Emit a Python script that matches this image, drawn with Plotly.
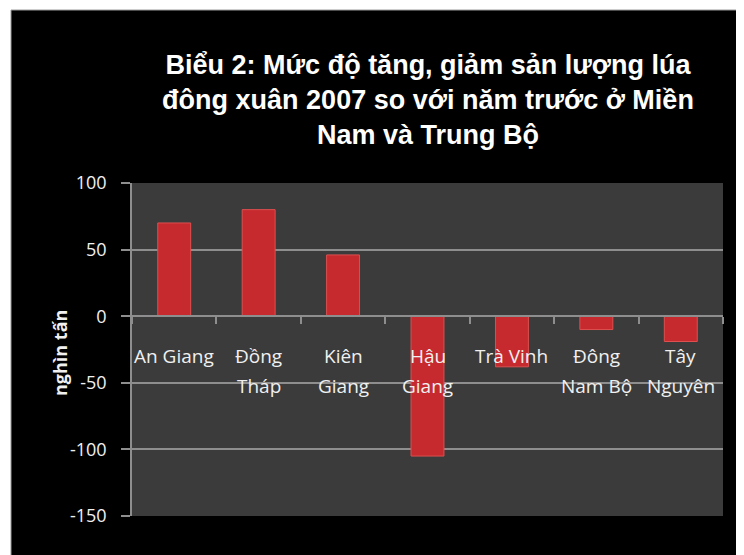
import plotly.graph_objects as go

# ---- data ----
categories = ["An Giang", "Đồng Tháp", "Kiên Giang", "Hậu Giang", "Trà Vinh", "Đông Nam Bộ", "Tây Nguyên"]
label_lines = [["An Giang"], ["Đồng", "Tháp"], ["Kiên", "Giang"], ["Hậu", "Giang"],
               ["Trà Vinh"], ["Đông", "Nam Bộ"], ["Tây", "Nguyên"]]
values = [70, 80, 46, -105, -38, -10, -19]
y_ticks = [100, 50, 0, -50, -100, -150]
y_tick_labels = ["100", "50", "0", "-50", "-100", "-150"]

title_text = "Biểu 2: Mức độ tăng, giảm sản lượng lúa<br>đông xuân 2007 so với năm trước ở Miền<br>Nam và Trung Bộ"
y_title = "nghìn tấn"

# ---- layout geometry (page pixels; the page body adds an 8px offset) ----
OFF = 8
W, H = 744 - OFF, 555 - OFF
ML, MR, MT, MB = 132 - OFF, 21, 183 - OFF, 39
PW, PH = W - ML - MR, H - MT - MB


def xp(px):  # page pixel -> paper x
    return (px - OFF - ML) / PW


def yp(py):  # page pixel -> paper y
    return (H - MB - (py - OFF)) / PH


grid_col = "#8e8e8e"
txt_col = "#f0f0f0"

fig = go.Figure()
fig.add_trace(go.Bar(
    x=categories, y=values,
    marker=dict(color="#c62a2f", line=dict(color="#de4f4f", width=1)),
    hoverinfo="x+y",
))

annotations = []
for cat, lines in zip(categories, label_lines):
    for i, ln in enumerate(lines):
        annotations.append(dict(
            x=cat, y=0, xref="x", yref="y", text=ln, showarrow=False,
            yanchor="middle", xanchor="center", yshift=-40 - 30 * i,
            font=dict(family="Open Sans", size=19, color=txt_col),
        ))
annotations.append(dict(
    x=xp(60), y=yp(353), xref="paper", yref="paper", text=y_title, showarrow=False,
    textangle=-90, xanchor="center", yanchor="middle",
    font=dict(family="Open Sans", size=18, color=txt_col, weight="bold"),
))

shapes = [
    # white outer border (left and top)
    dict(type="rect", xref="paper", yref="paper", x0=xp(0), x1=xp(11), y0=yp(600), y1=yp(0),
         fillcolor="white", line=dict(width=0), layer="below"),
    dict(type="rect", xref="paper", yref="paper", x0=xp(0), x1=xp(760), y0=yp(10), y1=yp(0),
         fillcolor="white", line=dict(width=0), layer="below"),
    dict(type="line", xref="paper", yref="paper", x0=xp(11), x1=xp(11), y0=yp(600), y1=yp(10),
         line=dict(color="#9a9a9a", width=1), layer="below"),
    dict(type="line", xref="paper", yref="paper", x0=xp(11), x1=xp(760), y0=yp(10), y1=yp(10),
         line=dict(color="#9a9a9a", width=1), layer="below"),
]

fig.update_layout(
    width=W, height=H,
    margin=dict(l=ML, r=MR, t=MT, b=MB),
    paper_bgcolor="black",
    plot_bgcolor="#3b3b3b",
    bargap=0.61,
    showlegend=False,
    title=dict(text=title_text, x=xp(428), xref="paper", xanchor="center",
               y=1 - (74 - OFF) / H, yanchor="top",
               font=dict(family="Liberation Sans", size=27, color="white", weight="bold")),
    xaxis=dict(
        anchor="free", position=yp(316), showticklabels=False,
        ticks="outside", tickson="boundaries", ticklen=7, tickcolor=grid_col, tickwidth=1.5,
        showline=True, linecolor=grid_col, linewidth=1.5, showgrid=False, zeroline=False,
    ),
    yaxis=dict(
        range=[-150, 100], tickvals=y_ticks, ticktext=y_tick_labels,
        ticks="outside", ticklen=9, ticklabelstandoff=11,
        tickcolor=grid_col, tickwidth=1.5,
        showline=True, linecolor=grid_col, linewidth=1.5,
        showgrid=True, gridcolor=grid_col, gridwidth=1.5, zeroline=False,
        tickfont=dict(family="Open Sans", size=18, color=txt_col),
    ),
    annotations=annotations,
    shapes=shapes,
)

fig.write_html("out.html")
